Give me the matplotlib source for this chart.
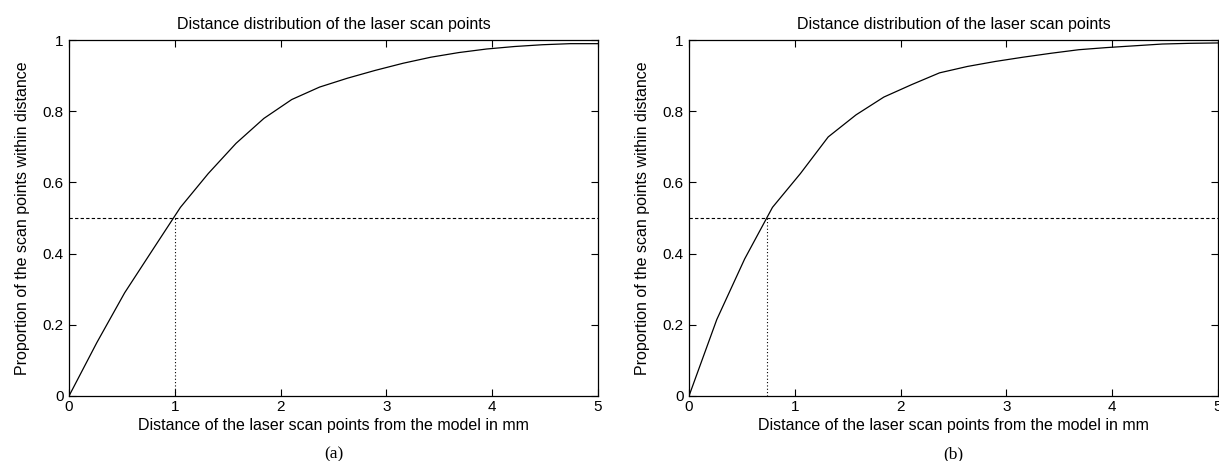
import matplotlib
matplotlib.use("Agg")
import matplotlib.pyplot as plt

# distances (mm) where the cumulative proportion was sampled
dist = [0.0, 0.263, 0.526, 0.789, 1.053, 1.316, 1.579, 1.842, 2.105, 2.368,
        2.632, 2.895, 3.158, 3.421, 3.684, 3.947, 4.211, 4.474, 4.737, 5.0]

# cumulative proportion of scan points, panel (a)
prop_a = [0.0, 0.15, 0.29, 0.41, 0.53, 0.625, 0.71, 0.78, 0.833, 0.868,
          0.893, 0.915, 0.935, 0.952, 0.965, 0.975, 0.982, 0.987, 0.99, 0.99]

# cumulative proportion of scan points, panel (b)
prop_b = [0.0, 0.215, 0.385, 0.53, 0.625, 0.728, 0.79, 0.84, 0.875, 0.908,
          0.926, 0.94, 0.952, 0.963, 0.973, 0.979, 0.984, 0.989, 0.991, 0.992]

# median distance for each panel
median_a = 1.0
median_b = 0.735

xticks = [0, 1, 2, 3, 4, 5]
yticks = [0, 0.2, 0.4, 0.6, 0.8, 1]
ytick_labels = ["0", "0.2", "0.4", "0.6", "0.8", "1"]

title = "Distance distribution of the laser scan points"
xlabel = "Distance of the laser scan points from the model in mm"
ylabel = "Proportion of the scan points within distance"
panel_labels = ["(a)", "(b)"]

plt.rcParams["font.family"] = ["Liberation Sans", "DejaVu Sans"]

fig = plt.figure(figsize=(12.19, 4.61), dpi=100)

panels = [
    (0.0566, prop_a, median_a, panel_labels[0]),
    (0.5652, prop_b, median_b, panel_labels[1]),
]

for left, prop, med, tag in panels:
    ax = fig.add_axes([left, 0.141, 0.434, 0.772])
    ax.plot(dist, prop, color="black", lw=0.9)
    # 50% line and median marker
    ax.plot([0, 5], [0.5, 0.5], color="black", lw=0.8, ls=(0, (3, 2)))
    ax.plot([med, med], [0, 0.5], color="black", lw=0.8, ls=(0, (1, 2)))

    ax.set_xlim(0, 5)
    ax.set_ylim(0, 1)
    ax.set_xticks(xticks)
    ax.set_yticks(yticks)
    ax.set_yticklabels(ytick_labels)
    ax.tick_params(direction="in", top=True, right=True, length=5, width=0.8,
                   labelsize=11)
    ax.tick_params(axis="y", pad=4)
    ax.tick_params(axis="x", pad=3)
    for s in ax.spines.values():
        s.set_linewidth(0.9)

    ax.set_title(title, fontsize=11.5, pad=8)
    ax.set_xlabel(xlabel, fontsize=11.5, labelpad=3)
    ax.set_ylabel(ylabel, fontsize=11.5, labelpad=9)
    ax.text(0.5, -0.163, tag, transform=ax.transAxes, ha="center", va="center",
            fontsize=12.5, family=["Liberation Serif", "DejaVu Serif"])

fig.savefig("out.png", dpi=100)
